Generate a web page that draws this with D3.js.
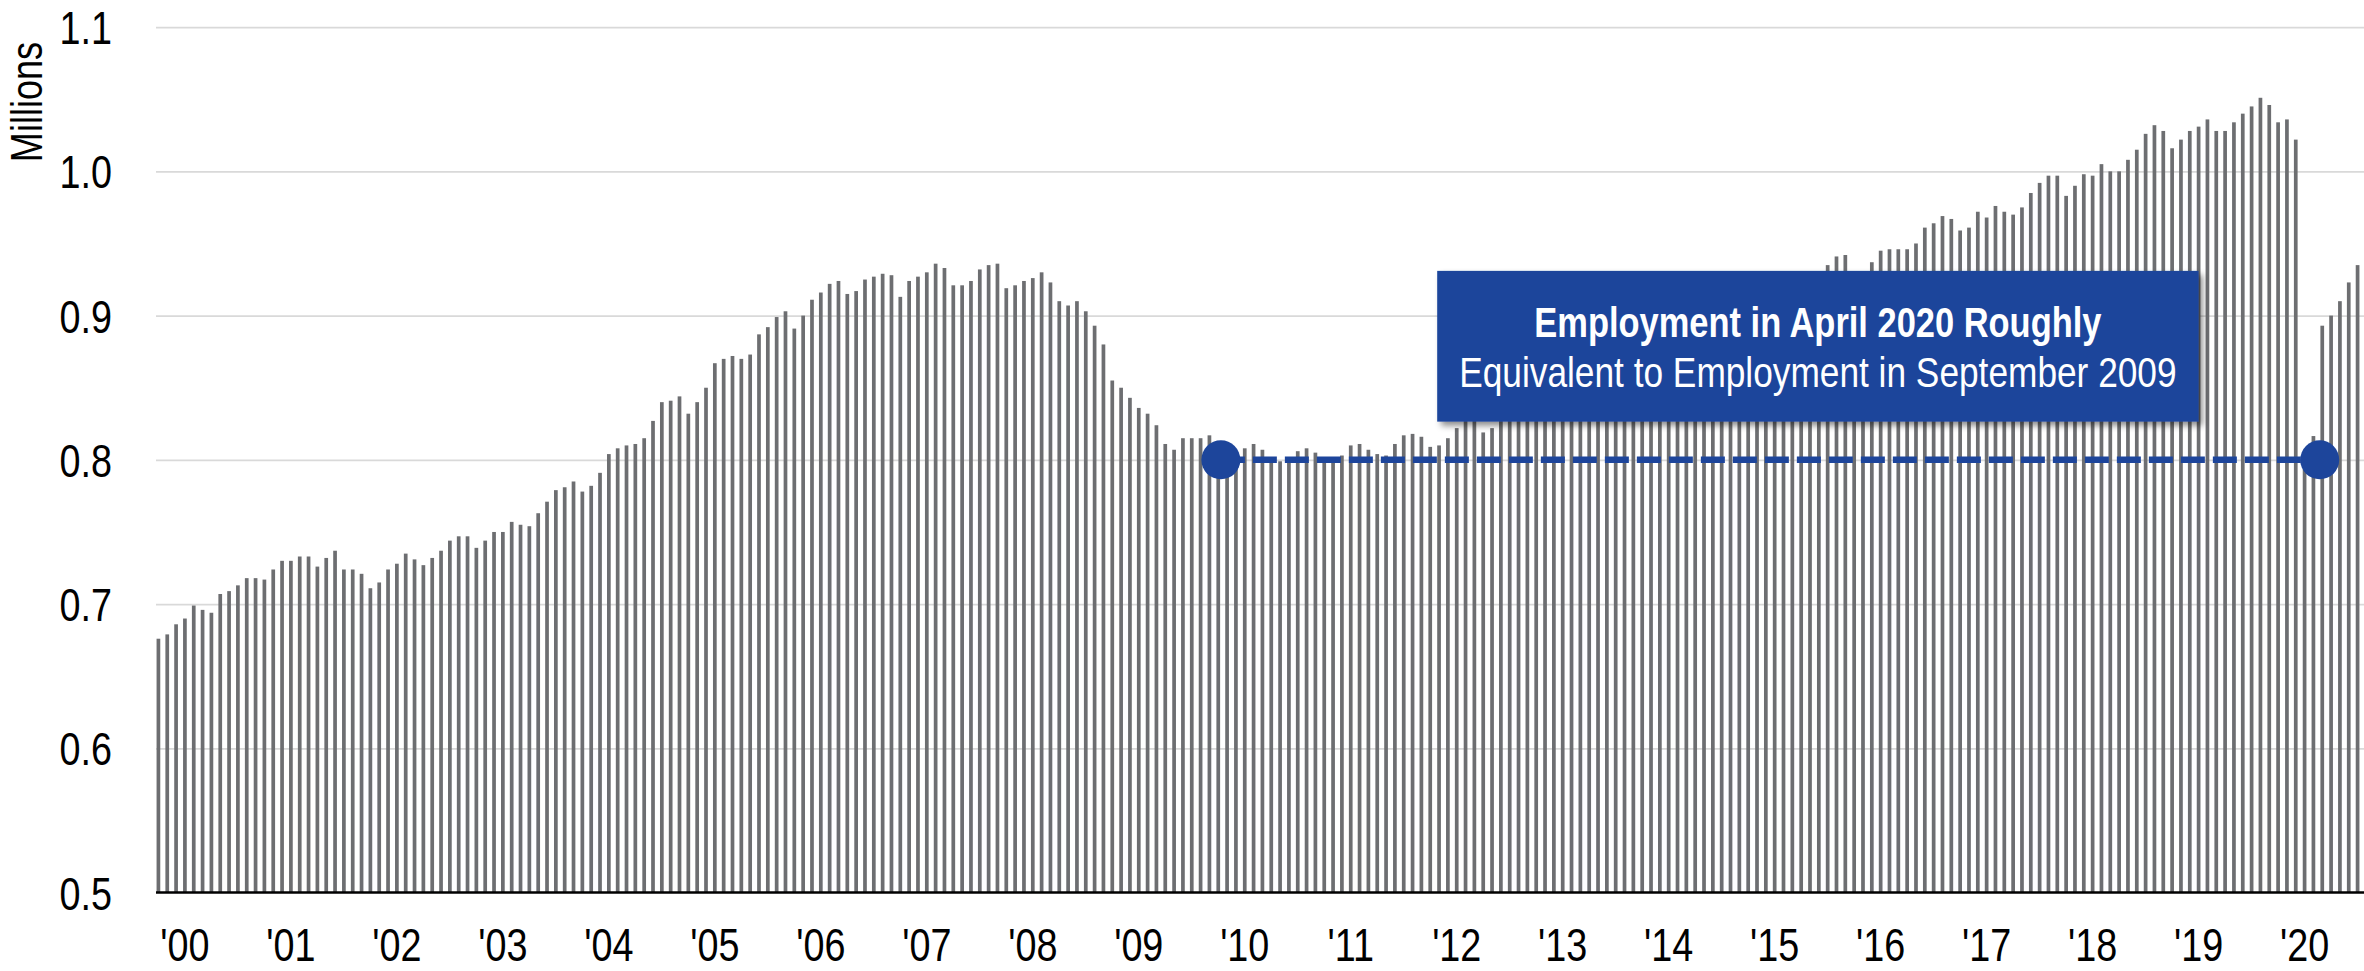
<!DOCTYPE html>
<html>
<head>
<meta charset="utf-8">
<script src="https://cdn.jsdelivr.net/npm/d3@7"></script>
<style>
  html, body { margin: 0; padding: 0; background: #fff; }
  svg { display: block; }
  text { font-family: "Liberation Sans", Arial, sans-serif; }
</style>
</head>
<body>
<div id="chart"></div>
<script>
// =======================
// DATA (millions, monthly from Jan 2000)
// =======================
const employment = [
  0.676, 0.679, 0.686, 0.690, 0.699, 0.696, 0.694, 0.707, 0.709, 0.713, 0.718, 0.718, // 2000
  0.717, 0.724, 0.730, 0.730, 0.733, 0.733, 0.726, 0.732, 0.737, 0.724, 0.724, 0.721, // 2001
  0.711, 0.715, 0.724, 0.728, 0.735, 0.731, 0.727, 0.732, 0.737, 0.744, 0.747, 0.747, // 2002
  0.739, 0.744, 0.750, 0.750, 0.757, 0.755, 0.754, 0.763, 0.771, 0.779, 0.781, 0.785, // 2003
  0.778, 0.782, 0.791, 0.804, 0.808, 0.810, 0.811, 0.815, 0.827, 0.840, 0.841, 0.844, // 2004
  0.832, 0.840, 0.850, 0.867, 0.870, 0.872, 0.870, 0.873, 0.887, 0.892, 0.899, 0.903, // 2005
  0.891, 0.900, 0.911, 0.916, 0.922, 0.924, 0.915, 0.917, 0.925, 0.927, 0.929, 0.928, // 2006
  0.913, 0.924, 0.927, 0.930, 0.936, 0.933, 0.921, 0.921, 0.924, 0.932, 0.935, 0.936, // 2007
  0.919, 0.921, 0.924, 0.926, 0.930, 0.923, 0.910, 0.907, 0.910, 0.903, 0.893, 0.880, // 2008
  0.855, 0.850, 0.843, 0.836, 0.832, 0.824, 0.811, 0.807, 0.815, 0.815, 0.815, 0.817, // 2009
  0.800, 0.802, 0.804, 0.808, 0.811, 0.807, 0.801, 0.799, 0.800, 0.806, 0.808, 0.805, // 2010
  0.800, 0.800, 0.803, 0.810, 0.811, 0.807, 0.804, 0.803, 0.811, 0.817, 0.818, 0.816, // 2011
  0.809, 0.810, 0.815, 0.822, 0.828, 0.830, 0.819, 0.822, 0.830, 0.836, 0.838, 0.836, // 2012
  0.830, 0.836, 0.843, 0.849, 0.852, 0.850, 0.846, 0.851, 0.856, 0.861, 0.866, 0.864, // 2013
  0.858, 0.864, 0.871, 0.876, 0.880, 0.878, 0.875, 0.880, 0.886, 0.892, 0.897, 0.895, // 2014
  0.889, 0.896, 0.904, 0.910, 0.914, 0.912, 0.910, 0.916, 0.925, 0.935, 0.941, 0.942, // 2015
  0.925, 0.929, 0.937, 0.945, 0.946, 0.946, 0.946, 0.950, 0.961, 0.964, 0.969, 0.967, // 2016
  0.959, 0.961, 0.972, 0.968, 0.976, 0.972, 0.970, 0.975, 0.985, 0.992, 0.997, 0.997, // 2017
  0.983, 0.990, 0.998, 0.997, 1.005, 1.000, 1.000, 1.008, 1.015, 1.026, 1.032, 1.028, // 2018
  1.016, 1.022, 1.028, 1.031, 1.036, 1.028, 1.028, 1.034, 1.040, 1.045, 1.051, 1.046, // 2019
  1.034, 1.036, 1.022, 0.800, 0.8165, 0.893, 0.900, 0.910, 0.923, 0.935               // 2020
];

const yTicks = [0.5, 0.6, 0.7, 0.8, 0.9, 1.0, 1.1];
const yearLabels = ["'00", "'01", "'02", "'03", "'04", "'05", "'06", "'07", "'08", "'09", "'10",
                    "'11", "'12", "'13", "'14", "'15", "'16", "'17", "'18", "'19", "'20"];

// annotation: two equal-level markers joined by a dashed line, plus the call-out box
const markerMonths = ["2010-01", "2020-05"];
const markerValue = 0.8;
const noteLines = ["Employment in April 2020 Roughly", "Equivalent to Employment in September 2009"];
const noteSpan = { from: "2012-02", to: "2019-04", top: 0.931, bottom: 0.8265 };

// =======================
// SVG SETUP
// =======================
const width = 2364;
const height = 971;
const blue = '#1d459b';
const barGrey = '#6d6e71';
const narrowFactor = 0.82; // no Arial Narrow installed: squeeze Liberation Sans instead

// condensed look: shrink each text horizontally around its anchor
function narrow(sel) {
  sel.each(function() {
    const len = this.getComputedTextLength();
    d3.select(this)
      .attr('textLength', len * narrowFactor)
      .attr('lengthAdjust', 'spacingAndGlyphs');
  });
}

const fmtMonth = d3.timeFormat('%Y-%m');
const months = d3.timeMonth
  .range(new Date(2000, 0, 1), new Date(2000, employment.length, 1))
  .map(fmtMonth);
const data = months.map((m, i) => ({ month: m, value: employment[i] }));

const svg = d3.select('#chart')
  .append('svg')
  .attr('width', width)
  .attr('height', height);

const defs = svg.append('defs');
defs.append('filter')
  .attr('id', 'shadow')
  .attr('x', '-5%').attr('y', '-10%')
  .attr('width', '115%').attr('height', '130%')
  .append('feDropShadow')
  .attr('dx', 4).attr('dy', 4)
  .attr('stdDeviation', 3)
  .attr('flood-color', '#000')
  .attr('flood-opacity', 0.45);

const plotLeft = 156;
const x = d3.scaleBand()
  .domain(months)
  .range([154, 2362])
  .paddingInner(0.58)
  .paddingOuter(0.29);

const y = d3.scaleLinear()
  .domain([0.5, 1.1])
  .range([892.6, 27.1]);

// =======================
// GRID + Y AXIS
// =======================
svg.append('g')
  .attr('transform', `translate(${plotLeft},0)`)
  .call(d3.axisLeft(y).tickValues(yTicks.slice(1)).tickSize(-(width - plotLeft)).tickFormat(''))
  .call(g => g.select('.domain').remove())
  .call(g => g.selectAll('line').attr('stroke', '#d9d9d9').attr('stroke-width', 1.8));

svg.append('g')
  .attr('transform', `translate(${plotLeft},0)`)
  .call(d3.axisLeft(y).tickValues(yTicks).tickSize(0).tickPadding(44).tickFormat(d3.format('.1f')))
  .call(g => g.select('.domain').remove())
  .call(g => g.selectAll('text')
    .attr('dy', '0.36em')
    .attr('fill', '#000')
    .style('font-family', '"Liberation Sans", Arial, sans-serif')
    .style('font-size', '46px')
    .call(narrow));

svg.append('text')
  .attr('transform', 'translate(42,102) rotate(-90)')
  .attr('text-anchor', 'middle')
  .attr('fill', '#000')
  .style('font-size', '44px')
  .text('Millions')
  .call(narrow);

// =======================
// BARS
// =======================
svg.append('g')
  .selectAll('rect')
  .data(data)
  .join('rect')
  .attr('x', d => x(d.month))
  .attr('width', x.bandwidth())
  .attr('y', d => y(d.value))
  .attr('height', d => y(0.5) - y(d.value))
  .attr('fill', barGrey);

// =======================
// X AXIS
// =======================
const januaries = months.filter(m => m.endsWith('-01'));
svg.append('g')
  .attr('transform', `translate(0,${y(0.5)})`)
  .call(d3.axisBottom(x).tickValues(januaries).tickSize(0)
    .tickFormat((d, i) => yearLabels[i]))
  .call(g => g.select('.domain')
    .attr('d', `M${plotLeft},0H${width}`)
    .attr('stroke', '#000')
    .attr('stroke-width', 2.5))
  .call(g => g.selectAll('text')
    .attr('x', x.step() * 3)
    .attr('y', 68.5)
    .attr('dy', 0)
    .attr('fill', '#000')
    .style('font-family', '"Liberation Sans", Arial, sans-serif')
    .style('font-size', '46px')
    .call(narrow));

// =======================
// ANNOTATION
// =======================
const markerX = m => x(m) + x.bandwidth() / 2;
const markerNudge = [2.6, 6.3];
const mx = markerMonths.map((m, i) => markerX(m) + markerNudge[i]);

svg.append('line')
  .attr('x1', mx[0]).attr('x2', mx[1])
  .attr('y1', y(markerValue)).attr('y2', y(markerValue))
  .attr('stroke', blue)
  .attr('stroke-width', 6.5)
  .attr('stroke-dasharray', '24,8');

svg.append('g')
  .selectAll('circle')
  .data(mx)
  .join('circle')
  .attr('cx', d => d)
  .attr('cy', y(markerValue))
  .attr('r', 19.5)
  .attr('fill', blue);

const boxX0 = x(noteSpan.from);
const boxX1 = x(noteSpan.to) + x.bandwidth() / 2;
const boxY0 = y(noteSpan.top);
const boxY1 = y(noteSpan.bottom);

svg.append('rect')
  .attr('x', boxX0)
  .attr('y', boxY0)
  .attr('width', boxX1 - boxX0)
  .attr('height', boxY1 - boxY0)
  .attr('fill', blue)
  .attr('filter', 'url(#shadow)');

svg.append('g')
  .selectAll('text')
  .data(noteLines)
  .join('text')
  .attr('x', (boxX0 + boxX1) / 2)
  .attr('y', (d, i) => boxY0 + 66 + i * 50.6)
  .attr('text-anchor', 'middle')
  .attr('fill', '#fff')
  .style('font-size', (d, i) => i === 0 ? '42px' : '43px')
  .style('font-weight', (d, i) => i === 0 ? '700' : '400')
  .text(d => d)
  .call(narrow);
</script>
</body>
</html>
